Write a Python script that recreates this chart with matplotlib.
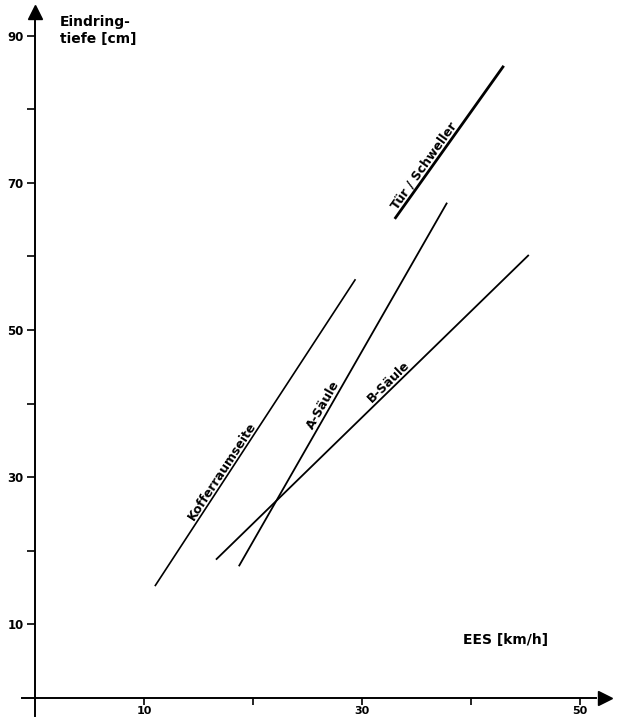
import numpy as np
import matplotlib
matplotlib.use("Agg")
import matplotlib.pyplot as plt

# line endpoints: EES [km/h] vs Eindringtiefe [cm]
names = ["Kofferraumseite", "A-Säule", "B-Säule", "Tür / Schweller"]
ees_start = [11.0, 18.7, 16.6, 33.0]
ees_end = [29.4, 37.8, 45.3, 43.0]
depth_start = [15.2, 17.9, 18.8, 65.1]
depth_end = [56.9, 67.3, 60.2, 85.9]
label_at = [17.7, 27.0, 32.9, 36.2]  # where along x the label sits
widths = [1.2, 1.3, 1.3, 2.0]

x_ticks = [10, 20, 30, 40, 50]
x_labels = ["10", "", "30", "", "50"]
y_ticks = [10, 20, 30, 40, 50, 60, 70, 80, 90]
y_labels = ["10", "", "30", "", "50", "", "70", "", "90"]

plt.rcParams["font.family"] = ["DejaVu Sans"]

fig = plt.figure(figsize=(6.28, 7.21), dpi=100)
ax = fig.add_axes([0, 0, 1, 1])
ax.set_xlim(-3.21, 54.4)
ax.set_ylim(-3.125, 94.84)

# axes crossing at zero, with arrow heads
for s in ["top", "right"]:
    ax.spines[s].set_visible(False)
ax.spines["left"].set_position(("data", 0))
ax.spines["bottom"].set_position(("data", 0))
ax.spines["left"].set_bounds(-2.4, 92)
ax.spines["bottom"].set_bounds(-1.2, 51.5)
ax.spines["left"].set_linewidth(1.4)
ax.spines["bottom"].set_linewidth(1.4)
ax.plot(52.3, 0, marker=">", color="k", markersize=10, clip_on=False)
ax.plot(0, 93.2, marker="^", color="k", markersize=10, clip_on=False)

ax.set_xticks(x_ticks)
ax.set_xticklabels(x_labels)
ax.set_yticks(y_ticks)
ax.set_yticklabels(y_labels)
ax.tick_params(axis="x", direction="out", length=5, width=1.2,
               labelsize=8, pad=1)
ax.tick_params(axis="y", direction="out", length=6, width=1.2,
               labelsize=8.5, pad=2)
for t in ax.get_xticklabels() + ax.get_yticklabels():
    t.set_fontweight("bold")

for i in range(len(names)):
    ax.plot([ees_start[i], ees_end[i]], [depth_start[i], depth_end[i]],
            color="k", lw=widths[i], solid_capstyle="butt")
    slope = (depth_end[i] - depth_start[i]) / (ees_end[i] - ees_start[i])
    lx = label_at[i]
    ly = depth_start[i] + (lx - ees_start[i]) * slope
    ang = np.degrees(np.arctan2(depth_end[i] - depth_start[i],
                                ees_end[i] - ees_start[i]))
    ax.text(lx, ly, names[i], rotation=ang, transform_rotates_text=True,
            rotation_mode="anchor", ha="center", va="bottom",
            fontsize=9, fontweight="bold")

ax.text(2.3, 90.7, "Eindring-\ntiefe [cm]", fontsize=10, fontweight="bold",
        va="center", ha="left", linespacing=1.35)
ax.text(43.2, 7.9, "EES [km/h]", fontsize=10, fontweight="bold",
        va="center", ha="center")

fig.savefig("out.png", dpi=100)
